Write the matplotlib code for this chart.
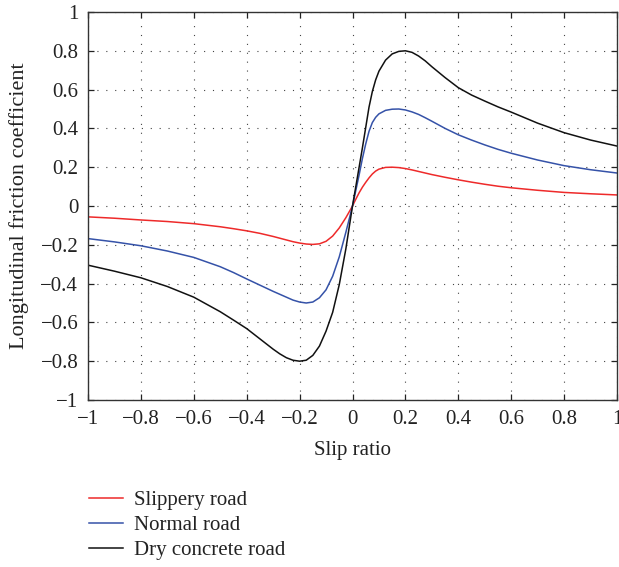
import matplotlib
matplotlib.use("Agg")
import matplotlib.pyplot as plt
from matplotlib.ticker import FixedLocator, FixedFormatter

plt.rcParams['font.family'] = ['Liberation Serif', 'DejaVu Serif']
plt.rcParams['axes.unicode_minus'] = True

slip = [-1.0, -0.9, -0.8, -0.7, -0.6, -0.5, -0.45, -0.4, -0.35, -0.3, -0.275, -0.25,
        -0.225, -0.2, -0.175, -0.15, -0.125, -0.1, -0.075, -0.05, -0.025, 0.0,
        0.0125, 0.025, 0.0375, 0.05, 0.0625, 0.075, 0.0875, 0.1, 0.125, 0.15, 0.175,
        0.2, 0.225, 0.25, 0.275, 0.3, 0.35, 0.4, 0.45, 0.5, 0.55, 0.6, 0.7, 0.8, 0.9, 1.0]

slippery = [-0.056, -0.063, -0.072, -0.080, -0.091, -0.107, -0.117, -0.128, -0.141,
            -0.157, -0.166, -0.175, -0.184, -0.191, -0.196, -0.198, -0.195, -0.182,
            -0.155, -0.113, -0.060, 0.0,
            0.035, 0.068, 0.097, 0.122, 0.145, 0.165, 0.180, 0.190, 0.199, 0.200, 0.198,
            0.193, 0.186, 0.178, 0.170, 0.162, 0.148, 0.135, 0.123, 0.112, 0.102, 0.094,
            0.081, 0.070, 0.063, 0.057]

normal = [-0.168, -0.185, -0.205, -0.232, -0.265, -0.313, -0.343, -0.376, -0.408,
          -0.440, -0.455, -0.470, -0.485, -0.495, -0.500, -0.495, -0.473, -0.432,
          -0.362, -0.262, -0.135, 0.0,
          0.080, 0.160, 0.245, 0.320, 0.385, 0.430, 0.457, 0.475, 0.493, 0.499, 0.500,
          0.495, 0.485, 0.472, 0.455, 0.437, 0.400, 0.367, 0.340, 0.315, 0.292, 0.272,
          0.237, 0.208, 0.187, 0.170]

dry = [-0.305, -0.336, -0.370, -0.415, -0.470, -0.545, -0.588, -0.632, -0.685,
       -0.738, -0.762, -0.782, -0.795, -0.800, -0.795, -0.770, -0.722, -0.645,
       -0.548, -0.405, -0.220, 0.0,
       0.100, 0.200, 0.300, 0.405, 0.510, 0.590, 0.650, 0.695, 0.752, 0.784, 0.797,
       0.800, 0.792, 0.773, 0.748, 0.718, 0.662, 0.610, 0.572, 0.541, 0.511, 0.484,
       0.427, 0.378, 0.340, 0.309]

series_labels = ["Slippery road", "Normal road", "Dry concrete road"]
series_colors = ["#ee2a2a", "#3552a8", "#111111"]

xticks = [-1, -0.8, -0.6, -0.4, -0.2, 0, 0.2, 0.4, 0.6, 0.8, 1]
xticklabels = ["\u22121", "\u22120.8", "\u22120.6", "\u22120.4", "\u22120.2", "0",
               "0.2", "0.4", "0.6", "0.8", "1"]
yticks = [-1, -0.8, -0.6, -0.4, -0.2, 0, 0.2, 0.4, 0.6, 0.8, 1]
yticklabels = ["\u22121", "\u22120.8", "\u22120.6", "\u22120.4", "\u22120.2", "0",
               "0.2", "0.4", "0.6", "0.8", "1"]

fig = plt.figure(figsize=(6.19, 5.67), dpi=100)
ax = fig.add_axes([88/619, (567-400)/567, (617-88)/619, (400-12)/567])

lines = []
for ys, lab, col in zip([slippery, normal, dry], series_labels, series_colors):
    ln, = ax.plot(slip, ys, color=col, lw=1.1, label=lab)
    lines.append(ln)

ax.set_xlim(-1, 1)
ax.set_ylim(-1, 1)
ax.xaxis.set_major_locator(FixedLocator(xticks))
ax.xaxis.set_major_formatter(FixedFormatter(xticklabels))
ax.yaxis.set_major_locator(FixedLocator(yticks))
ax.yaxis.set_major_formatter(FixedFormatter(yticklabels))
ax.tick_params(direction='in', length=4, width=0.9, top=True, right=True,
               labelsize=15, colors='#222222', pad=7)
ax.grid(True, color='#444444', lw=0.8, linestyle=(0, (1, 7)))
for s in ax.spines.values():
    s.set_color('#333333')
    s.set_linewidth(1.0)

ax.set_xlabel("Slip ratio", fontsize=15, color='#222222')
ax.xaxis.set_label_coords(0.5, (400 - 441) / 388)
ax.set_ylabel("Longitudinal friction coefficient", fontsize=16, color='#222222')
ax.yaxis.set_label_coords((29 - 88) / 529, 0.5)

fig.legend(handles=lines, labels=series_labels, loc='upper left',
           bbox_to_anchor=(70/619, 1 - 472/567), frameon=False, fontsize=15,
           handlelength=1.63, handletextpad=0.55, labelspacing=0.25,
           labelcolor='#222222')

fig.savefig("out.png", dpi=100)
